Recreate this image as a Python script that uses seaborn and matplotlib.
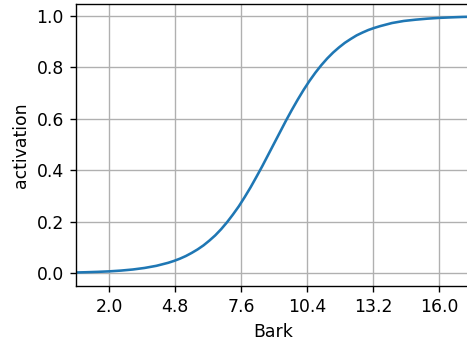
import matplotlib
matplotlib.use("Agg")
import matplotlib.pyplot as plt
import seaborn as sns
import pandas as pd

# Filter activation sampled along the Bark scale
bark = [0.6, 1.0, 1.5, 2.0, 2.5, 3.0, 3.5, 4.0, 4.5, 4.75, 5.0, 5.25, 5.5,
        5.75, 6.0, 6.25, 6.5, 6.75, 7.0, 7.25, 7.5, 7.75, 8.0, 8.25, 8.5,
        8.75, 9.0, 9.25, 9.5, 9.75, 10.0, 10.25, 10.5, 10.75, 11.0, 11.25,
        11.5, 11.75, 12.0, 12.25, 12.5, 12.75, 13.0, 13.25, 13.5, 14.0, 14.5,
        15.0, 15.5, 16.0, 16.5, 17.0, 17.3]
activation = [0.0026, 0.0035, 0.0050, 0.0070, 0.0100, 0.0142, 0.0202, 0.0285,
              0.0402, 0.0476, 0.0563, 0.0665, 0.0787, 0.0923, 0.108, 0.1266,
              0.147, 0.171, 0.198, 0.228, 0.260, 0.296, 0.334, 0.375, 0.417,
              0.461, 0.505, 0.549, 0.593, 0.635, 0.675, 0.713, 0.748, 0.780,
              0.809, 0.835, 0.858, 0.878, 0.896, 0.911, 0.925, 0.936, 0.946,
              0.954, 0.961, 0.973, 0.981, 0.986, 0.990, 0.993, 0.995, 0.9967,
              0.9973]
xticks = [2.0, 4.8, 7.6, 10.4, 13.2, 16.0]
yticks = [0.0, 0.2, 0.4, 0.6, 0.8, 1.0]

df = pd.DataFrame({"Bark": bark, "activation": activation})

DPI = 124
fig = plt.figure(figsize=(467 / DPI, 345 / DPI), dpi=DPI)
ax = fig.add_axes([0.1627, 0.171, 0.8437, 0.8174])

sns.lineplot(data=df, x="Bark", y="activation", ax=ax, color="#1f77b4",
             linewidth=1.5)

ax.set_xlim(0.59, 17.31)
ax.set_ylim(-0.05, 1.047)
ax.set_xticks(xticks)
ax.set_xticklabels([f"{t:.1f}" for t in xticks])
ax.set_yticks(yticks)
ax.set_yticklabels([f"{t:.1f}" for t in yticks])
ax.grid(True, color="#b0b0b0", linewidth=0.8)
ax.set_axisbelow(True)
ax.set_xlabel("Bark")
ax.set_ylabel("activation")

fig.savefig("out.png", dpi=DPI)
